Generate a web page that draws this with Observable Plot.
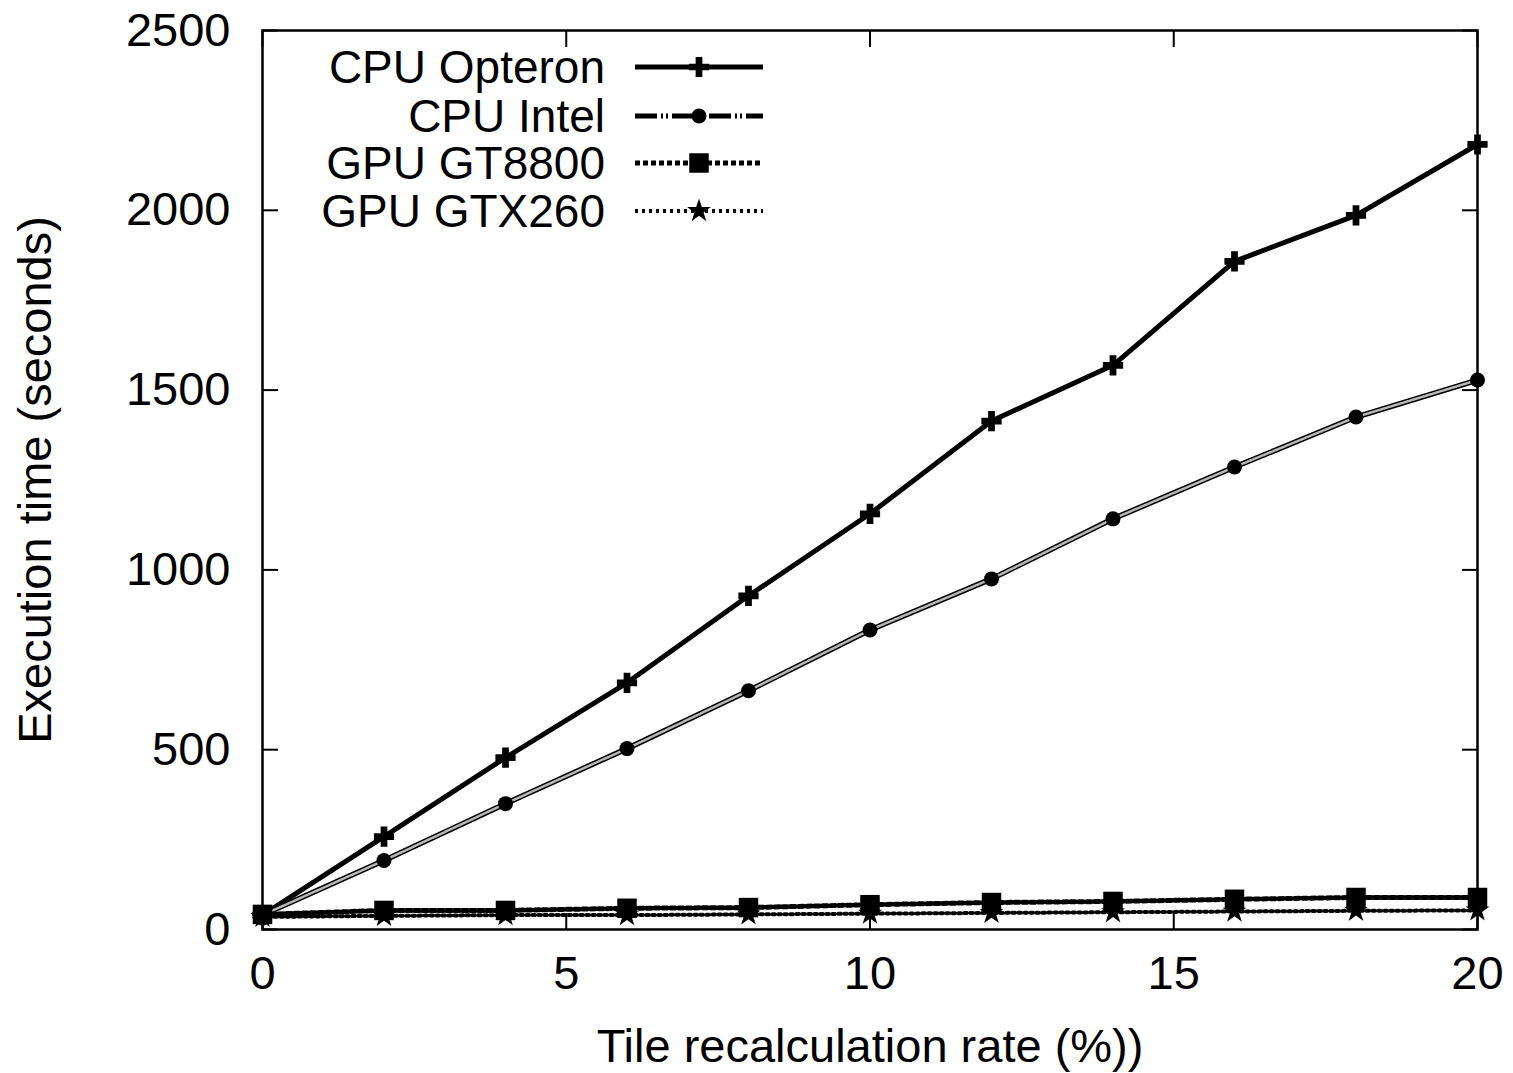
<!DOCTYPE html>
<html><head><meta charset="utf-8">
<script src="https://cdn.jsdelivr.net/npm/d3@7"></script>
<script src="https://cdn.jsdelivr.net/npm/@observablehq/plot@0.6"></script>
<style>
body{margin:0;background:#fff;}
#wrap{position:relative;width:1513px;height:1073px;}
#legend{position:absolute;left:0;top:0;}
</style></head><body><div id="wrap"></div>
<script>
const rates = [0, 2, 4, 6, 8, 10, 12, 14, 16, 18, 20];
const opteron = [40, 258, 478, 686, 928, 1156, 1414, 1569, 1858, 1986, 2183];
const intel = [40, 192, 350, 503, 664, 833, 975, 1142, 1286, 1425, 1528];
const gt8800 = [42, 53, 53, 59, 61, 69, 75, 78, 84, 89, 89];
const gtx260 = [35, 38, 40, 40, 42, 44, 46, 48, 50, 52, 53];
const seriesNames = ["CPU Opteron", "CPU Intel", "GPU GT8800", "GPU GTX260"];
const xTicks = [0, 5, 10, 15, 20];
const yTicks = [0, 500, 1000, 1500, 2000, 2500];

const seriesValues = [opteron, intel, gt8800, gtx260];
const styles = [
  {stroke: "#000", strokeWidth: 5, over: null, dash: null, legendDash: null, symbol: "cross", r: 8.5},
  {stroke: "#000", strokeWidth: 5.5, over: "#b8b8b8", dash: null, legendDash: "22,4,2,3,2,4", symbol: "circle", r: 7.5},
  {stroke: "#000", strokeWidth: 5, over: null, dash: "5,3", legendDash: "5,3", symbol: "square", r: 11},
  {stroke: "#000", strokeWidth: 4, over: null, dash: "2.5,3.5", legendDash: "3,4", symbol: "star", r: 7.5}
];

const data = seriesNames.map((name, i) => rates.map((x, j) => ({series: name, x, y: seriesValues[i][j]})));

const FONT = "Liberation Sans, Arial, Helvetica, sans-serif";
const marks = [];
data.forEach((d, i) => {
  const s = styles[i];
  marks.push(Plot.line(d, {x: "x", y: "y", stroke: s.stroke, strokeWidth: s.strokeWidth, strokeDasharray: s.dash}));
  if (s.over) marks.push(Plot.line(d, {x: "x", y: "y", stroke: s.over, strokeWidth: 2.5, strokeDasharray: "1.2,1.2"}));
});
data.forEach((d, i) => {
  const s = styles[i];
  marks.push(Plot.dot(d, {x: "x", y: "y", symbol: () => s.symbol, fill: "#000", stroke: "none", r: s.r}));
});

const noText = () => "";
const chart = Plot.plot({
  width: 1513,
  height: 1073,
  marginLeft: 262,
  marginRight: 36,
  marginTop: 30,
  marginBottom: 144,
  style: {fontFamily: FONT, fontSize: "47px", color: "#000", background: "#fff"},
  x: {domain: [0, 20]},
  y: {domain: [0, 2500]},
  marks: [
    Plot.axisX(xTicks, {anchor: "bottom", tickSize: -16, strokeWidth: 2, tickFormat: noText, label: null}),
    Plot.axisX(xTicks, {anchor: "top", tickSize: -16, strokeWidth: 2, tickFormat: noText, label: null}),
    Plot.axisY(yTicks, {anchor: "left", tickSize: -16, strokeWidth: 2, tickFormat: noText, label: null}),
    Plot.axisY(yTicks, {anchor: "right", tickSize: -16, strokeWidth: 2, tickFormat: noText, label: null}),
    Plot.axisX(xTicks, {anchor: "bottom", tickSize: 0, tickPadding: 26, fontSize: 47, tickFormat: d3.format("d"), label: "Tile recalculation rate (%))", labelAnchor: "center", labelArrow: "none", labelOffset: 132}),
    Plot.axisY(yTicks, {anchor: "left", tickSize: 0, tickPadding: 32, fontSize: 47, tickFormat: d3.format("d"), label: "Execution time (seconds)", labelAnchor: "center", labelArrow: "none", labelOffset: 245}),
    ...marks,
    Plot.frame({stroke: "#000", strokeWidth: 2.5})
  ]
});
document.getElementById("wrap").appendChild(chart);

// Legend (inside plot, top-left)
const rowY = [67, 116, 163, 211];
const leg = d3.select("#wrap").append("svg").attr("id", "legend").attr("width", 1513).attr("height", 1073);
seriesNames.forEach((name, i) => {
  const s = styles[i];
  const g = leg.append("g").attr("transform", `translate(0,${rowY[i]})`);
  g.append("text").attr("x", 605).attr("y", 0).attr("dy", "0.35em").attr("text-anchor", "end")
    .attr("font-family", FONT).attr("font-size", 46).attr("fill", "#000").text(name);
  g.append("line").attr("x1", 635).attr("x2", 763).attr("y1", 0).attr("y2", 0)
    .attr("stroke", "#000").attr("stroke-width", Math.min(s.strokeWidth, 5)).attr("stroke-dasharray", s.legendDash);
  const sym = {cross: d3.symbolCross, circle: d3.symbolCircle, square: d3.symbolSquare, star: d3.symbolStar}[s.symbol];
  g.append("path").attr("transform", "translate(699,0)").attr("d", d3.symbol(sym, Math.PI * s.r * s.r)()).attr("fill", "#000");
});
</script></body></html>
